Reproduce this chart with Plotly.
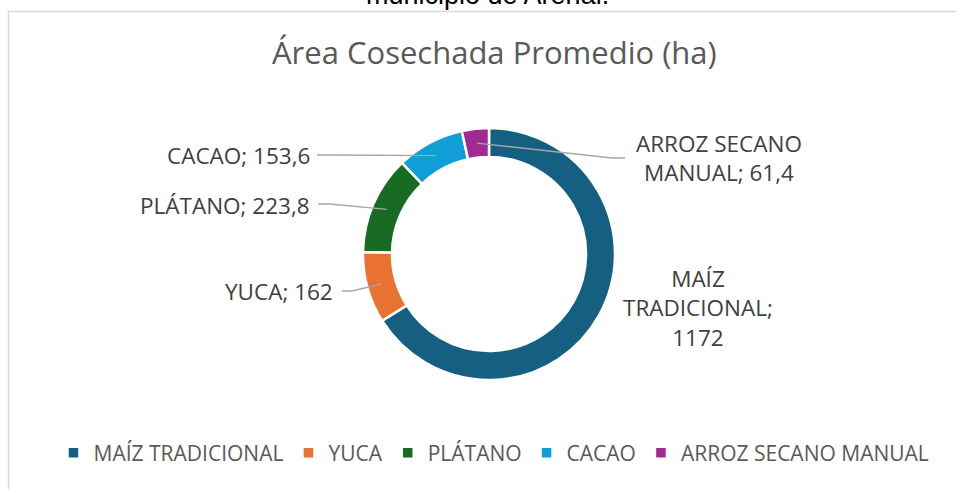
import math
import plotly.graph_objects as go

categories = ["MAÍZ TRADICIONAL", "YUCA", "PLÁTANO", "CACAO", "ARROZ SECANO MANUAL"]
values = [1172, 162, 223.8, 153.6, 61.4]
colors = ["#156082", "#E97132", "#196B24", "#0F9ED5", "#A02B93"]
title_text = "Área Cosechada Promedio (ha)"
top_text = "municipio de Arenal."

W, H = 956, 489
FONT = "Open Sans, Roboto, Liberation Sans, sans-serif"


def px(x):
    return x / W


def py(y):
    return 1 - y / H


def fmt(v):
    return f"{v:g}".replace(".", ",")


# donut geometry (pixels)
cx, cy, R = 489, 254, 126
hole = 0.77

fig = go.Figure(go.Pie(
    labels=categories,
    values=values,
    marker=dict(colors=colors, line=dict(color="white", width=2.5)),
    hole=hole,
    sort=False,
    direction="clockwise",
    rotation=0,
    textinfo="none",
    hoverinfo="label+value",
    domain=dict(x=[px(cx - R), px(cx + R)], y=[py(cy + R), py(cy - R)]),
))

total = sum(values)
mid_r = R * (1 + hole) / 2


def mid_point(i):
    start = sum(values[:i])
    frac = (start + values[i] / 2) / total
    ang = 2 * math.pi * frac
    return cx + mid_r * math.sin(ang), cy - mid_r * math.cos(ang)


label_specs = {
    0: dict(x=698, y=308, xanchor="center", text=["MAÍZ", "TRADICIONAL;", fmt(values[0])], leader=None),
    1: dict(x=335, y=291, xanchor="right", text=[f"YUCA; {fmt(values[1])}"], leader=[(342, 291), (352, 291)]),
    2: dict(x=312, y=205, xanchor="right", text=[f"PLÁTANO; {fmt(values[2])}"], leader=[(318, 204), (330, 204)]),
    3: dict(x=312, y=155, xanchor="right", text=[f"CACAO; {fmt(values[3])}"], leader=[(317, 155), (330, 155)]),
    4: dict(x=719, y=158, xanchor="center", text=["ARROZ SECANO", f"MANUAL; {fmt(values[4])}"], leader=[(625, 158), (612, 158)]),
}

annotations = []
shapes = []
for i, spec in label_specs.items():
    annotations.append(dict(
        x=px(spec["x"]), y=py(spec["y"]), xref="paper", yref="paper",
        text="<br>".join(spec["text"]), showarrow=False,
        xanchor=spec["xanchor"], yanchor="middle", align="center",
        font=dict(family=FONT, size=22.5, color="#404040"),
    ))
    if spec["leader"]:
        pts = spec["leader"] + [mid_point(i)]
        path = "M " + " L ".join(f"{px(a):.5f},{py(b):.5f}" for a, b in pts)
        shapes.append(dict(type="path", path=path, xref="paper", yref="paper",
                           line=dict(color="#A6A6A6", width=1.4)))

# title
annotations.append(dict(
    x=px(494), y=py(52), xref="paper", yref="paper", text=title_text,
    showarrow=False, xanchor="center", yanchor="middle",
    font=dict(family=FONT, size=31, color="#595959"),
))
# clipped caption at top
annotations.append(dict(
    x=px(487), y=py(12), xref="paper", yref="paper", text=top_text,
    showarrow=False, xanchor="center", yanchor="bottom",
    font=dict(family="Liberation Sans, Arial, sans-serif", size=27, color="#000000"),
))

# chart border
shapes.append(dict(type="rect", xref="paper", yref="paper",
                   x0=px(8.5), x1=px(970), y0=py(500), y1=py(11.5),
                   line=dict(color="#D9D9D9", width=1.5)))

fig.update_layout(
    width=W, height=H,
    margin=dict(l=0, r=0, t=0, b=0),
    paper_bgcolor="white", plot_bgcolor="white",
    showlegend=True,
    legend=dict(orientation="h", x=px(494), xanchor="center", y=py(453), yanchor="middle",
                font=dict(family=FONT, size=21, color="#595959"),
                itemwidth=30, tracegroupgap=0),
    annotations=annotations,
    shapes=shapes,
)

fig.write_html("out.html", config={"displayModeBar": False},
               post_script="document.body.style.margin='0';document.body.style.overflow='hidden';")
